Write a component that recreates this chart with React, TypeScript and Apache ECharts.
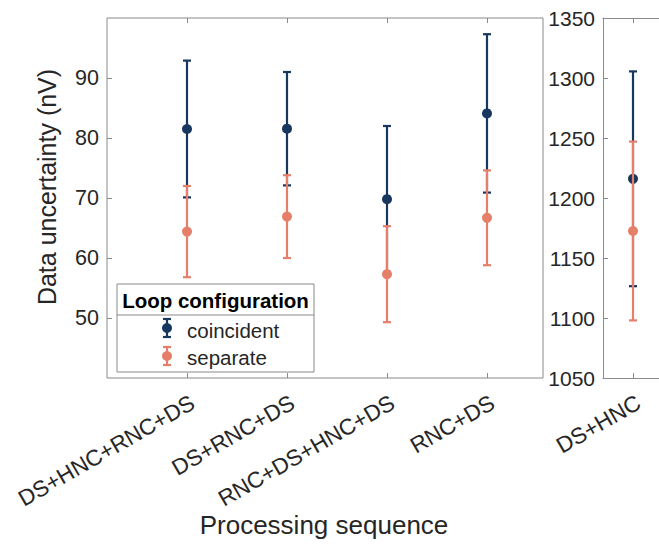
import React, { useEffect, useRef } from "react";
import * as echarts from "echarts";

// ---- data ----
const categories = ["DS+HNC+RNC+DS", "DS+RNC+DS", "RNC+DS+HNC+DS", "RNC+DS"];
const coincidentMean = [81.5, 81.55, 69.8, 84.1];
const coincidentErr = [11.4, 9.45, 12.2, 13.2];
const separateMean = [64.4, 66.9, 57.3, 66.7];
const separateErr = [7.6, 6.9, 8.0, 7.9];

const rightCategories = ["DS+HNC"];
const rightCoincidentMean = [1216];
const rightCoincidentErr = [89.5];
const rightSeparateMean = [1172.5];
const rightSeparateErr = [74.5];

const seriesNames = ["coincident", "separate"];
const legendTitle = "Loop configuration";
const yTitle = "Data uncertainty (nV)";
const xTitle = "Processing sequence";

// ---- style ----
const FONT = "'Liberation Sans', Arial, Helvetica, sans-serif";
const DARK = "#17375E";
const ORANGE = "#E67F69";
const AX = "#8a8a8a";
const TXT = "#262626";

function errData(means: number[], errs: number[]) {
  return means.map((m, i) => [i + 1, m, errs[i]]);
}

function errSeries(name: string, color: string, data: number[][], z: number) {
  return {
    type: "custom",
    name,
    z,
    encode: { x: 0, y: 1 },
    data,
    renderItem: (params: any, api: any) => {
      const x = api.value(0);
      const m = api.value(1);
      const e = api.value(2);
      const top = api.coord([x, m + e]);
      const bot = api.coord([x, m - e]);
      const c = api.coord([x, m]);
      const hw = 4;
      const ls = { stroke: color, lineWidth: 2.2 };
      return {
        type: "group",
        children: [
          { type: "line", shape: { x1: top[0], y1: top[1], x2: bot[0], y2: bot[1] }, style: ls },
          { type: "line", shape: { x1: top[0] - hw, y1: top[1], x2: top[0] + hw, y2: top[1] }, style: ls },
          { type: "line", shape: { x1: bot[0] - hw, y1: bot[1], x2: bot[0] + hw, y2: bot[1] }, style: ls },
          { type: "circle", shape: { cx: c[0], cy: c[1], r: 5 }, style: { fill: color } },
        ],
      };
    },
  };
}

function xAxes(gridIndex: number, min: number, max: number, cats: string[], showLine: boolean) {
  const vals = cats.map((_, i) => i + 1);
  const tick = { show: true, inside: true, length: 5, customValues: vals, lineStyle: { color: AX, width: 1 } };
  const line = { show: showLine, onZero: false, lineStyle: { color: AX, width: 1 } };
  return [
    {
      gridIndex,
      type: "value",
      min,
      max,
      position: "bottom",
      axisLine: line,
      splitLine: { show: false },
      axisTick: tick,
      axisLabel: {
        customValues: vals,
        formatter: (v: number) => cats[Math.round(v) - 1] ?? "",
        rotate: 30,
        align: "right",
        verticalAlign: "top",
        margin: 13,
        fontSize: 22.5,
        color: TXT,
        fontFamily: FONT,
      },
    },
    {
      gridIndex,
      type: "value",
      min,
      max,
      position: "top",
      axisLine: line,
      splitLine: { show: false },
      axisTick: tick,
      axisLabel: { show: false },
    },
  ];
}

function legendGraphics() {
  const bx = 117, by = 284, bw = 197, bh = 88;
  const mk = (cy: number, color: string) => [
    { type: "line", z: 101, shape: { x1: 167, y1: cy - 9, x2: 167, y2: cy + 9 }, style: { stroke: color, lineWidth: 2.2 } },
    { type: "line", z: 101, shape: { x1: 163, y1: cy - 9, x2: 171, y2: cy - 9 }, style: { stroke: color, lineWidth: 2.2 } },
    { type: "line", z: 101, shape: { x1: 163, y1: cy + 9, x2: 171, y2: cy + 9 }, style: { stroke: color, lineWidth: 2.2 } },
    { type: "circle", z: 101, shape: { cx: 167, cy, r: 5 }, style: { fill: color } },
  ];
  return [
    { type: "rect", z: 100, shape: { x: bx, y: by, width: bw, height: bh }, style: { fill: "#ffffff", stroke: AX, lineWidth: 1 } },
    { type: "line", z: 101, shape: { x1: bx, y1: 315, x2: bx + bw, y2: 315 }, style: { stroke: AX, lineWidth: 1 } },
    {
      type: "text", z: 101, x: bx + bw / 2, y: 300,
      style: { text: legendTitle, fontSize: 20.5, fontWeight: "bold", fill: "#000", fontFamily: FONT, align: "center", verticalAlign: "middle" },
    },
    ...mk(328, DARK),
    ...mk(356, ORANGE),
    {
      type: "text", z: 101, x: 187, y: 330,
      style: { text: seriesNames[0], fontSize: 20.5, fill: TXT, fontFamily: FONT, align: "left", verticalAlign: "middle" },
    },
    {
      type: "text", z: 101, x: 187, y: 357,
      style: { text: seriesNames[1], fontSize: 20.5, fill: TXT, fontFamily: FONT, align: "left", verticalAlign: "middle" },
    },
  ];
}

export default function App() {
  const ref = useRef<HTMLDivElement>(null);
  useEffect(() => {
    if (!ref.current) return;
    const chart = echarts.init(ref.current, undefined, { renderer: "svg" });
    const yAxisCommon = {
      type: "value",
      splitLine: { show: false },
      axisTick: { show: true, inside: true, length: 5, lineStyle: { color: AX, width: 1 } },
    };
    const option: any = {
      animation: false,
      backgroundColor: "#ffffff",
      textStyle: { fontFamily: FONT },
      grid: [
        { left: 107, top: 18, width: 436, height: 360, show: true, borderColor: AX, borderWidth: 1, backgroundColor: "transparent" },
        { left: 603, top: 18, width: 56, height: 360, show: false },
      ],
      xAxis: [...xAxes(0, 0.2, 4.56, categories, false), ...xAxes(1, 0.7, 1.26, rightCategories, true)],
      yAxis: [
        {
          ...yAxisCommon,
          gridIndex: 0,
          min: 40,
          max: 100,
          interval: 10,
          axisLine: { show: false },
          axisLabel: { showMinLabel: false, showMaxLabel: false, fontSize: 21.5, color: TXT, margin: 8, fontFamily: FONT },
        },
        {
          ...yAxisCommon,
          gridIndex: 1,
          min: 1050,
          max: 1350,
          interval: 50,
          axisLine: { show: true, onZero: false, lineStyle: { color: AX, width: 1 } },
          axisLabel: { fontSize: 21, color: TXT, margin: 8, fontFamily: FONT, formatter: (v: number) => String(v) },
        },
      ],
      series: [
        { ...errSeries(seriesNames[0], DARK, errData(coincidentMean, coincidentErr), 10), xAxisIndex: 0, yAxisIndex: 0 },
        { ...errSeries(seriesNames[1], ORANGE, errData(separateMean, separateErr), 11), xAxisIndex: 0, yAxisIndex: 0 },
        { ...errSeries(seriesNames[0], DARK, errData(rightCoincidentMean, rightCoincidentErr), 10), xAxisIndex: 2, yAxisIndex: 1 },
        { ...errSeries(seriesNames[1], ORANGE, errData(rightSeparateMean, rightSeparateErr), 11), xAxisIndex: 2, yAxisIndex: 1 },
      ],
      graphic: [
        {
          type: "text",
          x: 47,
          y: 187,
          rotation: Math.PI / 2,
          style: { text: yTitle, fontSize: 25, fill: TXT, fontFamily: FONT, align: "center", verticalAlign: "middle" },
        },
        {
          type: "text",
          x: 324,
          y: 525,
          style: { text: xTitle, fontSize: 26, fill: TXT, fontFamily: FONT, align: "center", verticalAlign: "middle" },
        },
        ...legendGraphics(),
      ],
    };
    chart.setOption(option);
    return () => chart.dispose();
  }, []);
  return (
    <div
      ref={ref}
      style={{ position: "absolute", left: 0, top: 0, width: 659, height: 544, overflow: "hidden" }}
    />
  );
}
